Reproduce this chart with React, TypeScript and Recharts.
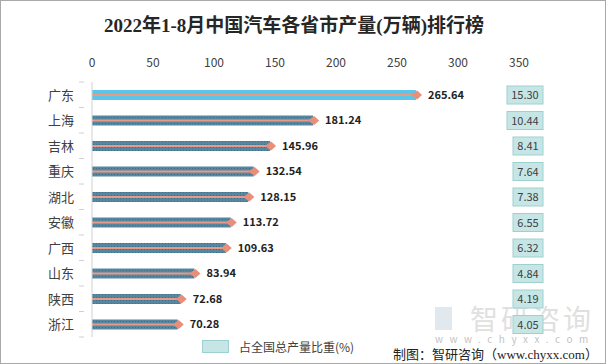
import React from 'react';
import { BarChart, Bar, XAxis, YAxis, Cell, LabelList, Legend } from 'recharts';

// 2022年1-8月 各省市汽车产量（万辆）及占全国比重（%）
const provinces = ['广东', '上海', '吉林', '重庆', '湖北', '安徽', '广西', '山东', '陕西', '浙江'];
const output = [265.64, 181.24, 145.96, 132.54, 128.15, 113.72, 109.63, 83.94, 72.68, 70.28];
const share = [15.3, 10.44, 8.41, 7.64, 7.38, 6.55, 6.32, 4.84, 4.19, 4.05];
const xTicks = [0, 50, 100, 150, 200, 250, 300, 350];

const chartData = provinces.map((name, i) => ({ name, output: output[i], share: share[i] }));

const SANS = '"Noto Sans CJK SC", "Noto Sans", sans-serif';
const SERIF = '"Liberation Serif", "Noto Sans CJK SC", serif';

// bar + salmon centre line + diamond at the end
const ArrowBar = (props: any) => {
  const { x, y, width, height, fill } = props;
  const cy = y + height / 2;
  const ex = x + width;
  return (
    <g>
      <rect x={x} y={y} width={width} height={height} fill={fill} />
      <line x1={x} y1={cy} x2={ex} y2={cy} stroke="#E99A86" strokeWidth={1.8} />
      <path d={`M${ex - 5},${cy} L${ex + 1},${cy - 4.5} L${ex + 6},${cy} L${ex + 1},${cy + 4.5} Z`} fill="#E98E78" />
    </g>
  );
};

const CategoryTick = (props: any) => {
  const { x, y, payload, index } = props;
  const half = payload?.offset || 12.6;
  return (
    <g>
      <text x={x - 10} y={y} dy={5} textAnchor="end" fontSize={13} fill="#404040" fontFamily={SANS}>
        {payload.value}
      </text>
      {index === 0 && <line x1={x - 5} y1={y - half} x2={x} y2={y - half} stroke="#d0d0d0" />}
      <line x1={x - 5} y1={y + half} x2={x} y2={y + half} stroke="#d0d0d0" />
    </g>
  );
};

// ratio boxes in the right column
const ShareBox = (props: any) => {
  const { y, height, value } = props;
  const text = Number(value).toFixed(2);
  const w = text.length > 4 ? 36 : 30;
  const right = 543;
  const cy = y + height / 2;
  return (
    <g>
      <rect x={right - w} y={cy - 9} width={w} height={18} fill="#C6E6E6" stroke="#9FD0D0" strokeWidth={1} />
      <text x={right - w / 2} y={cy} dy={4} textAnchor="middle" fontSize={11} fill="#404040" fontFamily={SANS}>
        {text}
      </text>
    </g>
  );
};

const LegendContent = () => (
  <div style={{ display: 'flex', alignItems: 'center', fontFamily: SANS, fontSize: 12, color: '#404040' }}>
    <span style={{ display: 'inline-block', width: 25, height: 11, background: '#C6E6E6', border: '1px solid #9FD0D0', marginRight: 10 }} />
    占全国总产量比重(%)
  </div>
);

export default function App() {
  return (
    <div
      style={{
        position: 'absolute',
        left: 0,
        top: 0,
        width: 606,
        height: 364,
        background: '#fff',
        border: '1px solid #a9a9a9',
        boxSizing: 'border-box',
        overflow: 'hidden',
      }}
    >
      <div
        style={{
          position: 'absolute',
          top: 9,
          left: 0,
          width: 586,
          textAlign: 'center',
          fontFamily: SERIF,
          fontWeight: 'bold',
          fontSize: 19,
          color: '#262626',
        }}
      >
        2022年1-8月中国汽车各省市产量(万辆)排行榜
      </div>

      {/* watermark */}
      <div style={{ position: 'absolute', left: 434, top: 304, pointerEvents: 'none' }}>
        <div style={{ display: 'flex', alignItems: 'center', height: 26, opacity: 0.3 }}>
          <div style={{ width: 17, height: 23, background: '#9fb4c8', marginRight: 18 }} />
          <span style={{ fontFamily: SANS, fontSize: 28, color: '#9a9a9a', letterSpacing: 3, lineHeight: '26px' }}>智研咨询</span>
        </div>
        <div style={{ fontFamily: SANS, fontSize: 10, lineHeight: '12px', color: '#c4c4c4', letterSpacing: 6.5, marginTop: 2 }}>
          www.chyxx.com
        </div>
      </div>

      <div style={{ position: 'absolute', left: -1, top: -1 }}>
        <BarChart
          width={606}
          height={364}
          data={chartData}
          layout="vertical"
          margin={{ top: 52, right: 87, bottom: 10, left: 0 }}
          barSize={10}
        >
          <defs>
            <pattern id="dots" width="3" height="3" patternUnits="userSpaceOnUse">
              <rect width="3" height="3" fill="#5786A1" />
              <rect width="1" height="1" fill="#3F6E8A" />
            </pattern>
          </defs>
          <XAxis
            type="number"
            orientation="top"
            domain={[0, 350]}
            ticks={xTicks}
            axisLine={false}
            tickLine={false}
            height={30}
            tickMargin={9}
            tick={{ fontSize: 12, fill: '#404040', fontFamily: SANS }}
          />
          <YAxis
            type="category"
            dataKey="name"
            width={92}
            interval={0}
            axisLine={{ stroke: '#d0d0d0' }}
            tickLine={false}
            tick={<CategoryTick />}
          />
          <Legend
            verticalAlign="bottom"
            content={<LegendContent />}
            wrapperStyle={{ left: 202, bottom: 9, width: 200 }}
          />
          <Bar dataKey="output" shape={<ArrowBar />} isAnimationActive={false}>
            {chartData.map((d, i) => (
              <Cell key={d.name} fill={i === 0 ? '#5BC6E8' : 'url(#dots)'} />
            ))}
            <LabelList
              dataKey="output"
              position="right"
              offset={12}
              formatter={(v: any) => Number(v).toFixed(2)}
              style={{ fontSize: 11, fontWeight: 'bold', fill: '#222', fontFamily: SANS }}
            />
            <LabelList dataKey="share" content={<ShareBox />} />
          </Bar>
        </BarChart>
      </div>

      <div
        style={{
          position: 'absolute',
          left: 392,
          top: 343,
          fontFamily: '"Liberation Serif", "Noto Sans CJK SC", serif',
          fontSize: 13,
          color: '#222',
          whiteSpace: 'nowrap',
        }}
      >
        制图：智研咨询（www.chyxx.com）
      </div>
    </div>
  );
}
